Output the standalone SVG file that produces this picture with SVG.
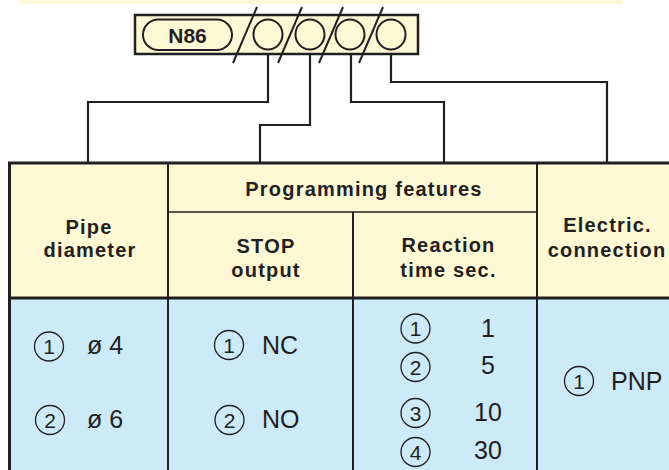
<svg xmlns="http://www.w3.org/2000/svg" width="669" height="470" viewBox="0 0 669 470">
<style>
  .ln{stroke:#231f20;fill:none;stroke-width:2.2}
  .hd{font-family:"Liberation Sans",Arial,sans-serif;font-weight:bold;font-size:20px;fill:#231f20;text-anchor:middle;letter-spacing:1.2px}
  .bd{font-family:"Liberation Sans",Arial,sans-serif;font-size:25px;fill:#231f20}
  .cn{font-family:"Liberation Sans",Arial,sans-serif;font-size:21px;fill:#231f20;text-anchor:middle}
  .cc{fill:none;stroke:#231f20;stroke-width:1.3}
</style>
<defs>
  <circle id="cir" r="14.5" class="cc"/>
</defs>
<rect x="20" y="0" width="603" height="4" fill="#fdf8d9"/>

<g id="code-box">
  <rect x="135" y="15" width="283" height="39" fill="#fef8d5" stroke="#231f20" stroke-width="2.5"/>
  <rect x="143" y="19.5" width="89" height="30.5" rx="15.25" fill="none" stroke="#231f20" stroke-width="2"/>
  <text x="187.5" y="42.5" font-family="Liberation Sans,Arial,sans-serif" font-weight="bold" font-size="21" fill="#231f20" text-anchor="middle">N86</text>
  <ellipse cx="268" cy="34.5" rx="14.5" ry="15" fill="none" stroke="#231f20" stroke-width="2"/>
  <ellipse cx="310" cy="34.5" rx="14.5" ry="15" fill="none" stroke="#231f20" stroke-width="2"/>
  <ellipse cx="350" cy="34.5" rx="14.5" ry="15" fill="none" stroke="#231f20" stroke-width="2"/>
  <ellipse cx="391" cy="34.5" rx="14.5" ry="15" fill="none" stroke="#231f20" stroke-width="2"/>
  <g stroke="#231f20" stroke-width="2">
    <line x1="233" y1="63" x2="257" y2="7"/>
    <line x1="278" y1="63" x2="302" y2="7"/>
    <line x1="319" y1="63" x2="343" y2="7"/>
    <line x1="359" y1="63" x2="383" y2="7"/>
  </g>
</g>

<g id="connectors">
  <polyline class="ln" points="268,54 268,102 88,102 88,163"/>
  <polyline class="ln" points="310,54 310,125 260,125 260,163"/>
  <polyline class="ln" points="351,54 351,102 444,102 444,163"/>
  <polyline class="ln" points="391,54 391,82 607,82 607,163"/>
</g>

<g id="table">
  <rect x="9" y="163" width="660" height="135" fill="#fef8d5"/>
  <rect x="9" y="298" width="660" height="172" fill="#cdeaf9"/>
  <g stroke="#231f20">
    <line x1="168" y1="163" x2="168" y2="470" stroke-width="2"/>
    <line x1="353" y1="212" x2="353" y2="470" stroke-width="2"/>
    <line x1="537" y1="163" x2="537" y2="470" stroke-width="2"/>
    <line x1="168" y1="212" x2="537" y2="212" stroke-width="1.5"/>
    <line x1="9" y1="298" x2="669" y2="298" stroke-width="3"/>
    <line x1="8" y1="163" x2="669" y2="163" stroke-width="3"/>
    <line x1="9.5" y1="162" x2="9.5" y2="470" stroke-width="3"/>
  </g>
</g>

<g id="pipe-diameter">
  <text class="hd" x="89" y="234">Pipe</text>
  <text class="hd" x="90" y="257">diameter</text>
  <use href="#cir" x="49" y="346.5"/>
  <text class="cn" x="49" y="354">1</text>
  <text class="bd" x="87" y="353.5">ø 4</text>
  <use href="#cir" x="50" y="420"/>
  <text class="cn" x="50" y="427.5">2</text>
  <text class="bd" x="87" y="427.5">ø 6</text>
</g>

<g id="programming-features">
  <text class="hd" x="364" y="196">Programming features</text>
</g>

<g id="stop-output">
  <text class="hd" x="266" y="253">STOP</text>
  <text class="hd" x="266" y="277">output</text>
  <use href="#cir" x="229" y="345"/>
  <text class="cn" x="229" y="352.5">1</text>
  <text class="bd" x="262" y="353.5">NC</text>
  <use href="#cir" x="229.5" y="420"/>
  <text class="cn" x="229.5" y="427.5">2</text>
  <text class="bd" x="262" y="427.5">NO</text>
</g>

<g id="reaction-time">
  <text class="hd" x="448.5" y="252">Reaction</text>
  <text class="hd" x="448.5" y="277">time sec.</text>
  <use href="#cir" x="415.5" y="328.5"/>
  <text class="cn" x="415.5" y="336">1</text>
  <text class="bd" x="488" y="337" text-anchor="middle">1</text>
  <use href="#cir" x="415.5" y="367"/>
  <text class="cn" x="415.5" y="374.5">2</text>
  <text class="bd" x="488" y="374" text-anchor="middle">5</text>
  <use href="#cir" x="415.5" y="413"/>
  <text class="cn" x="415.5" y="420.5">3</text>
  <text class="bd" x="488" y="421" text-anchor="middle">10</text>
  <use href="#cir" x="415.5" y="452"/>
  <text class="cn" x="415.5" y="459.5">4</text>
  <text class="bd" x="488" y="458.5" text-anchor="middle">30</text>
</g>

<g id="electric-connection">
  <text class="hd" x="607.5" y="232">Electric.</text>
  <text class="hd" x="607" y="257">connection</text>
  <use href="#cir" x="579" y="381"/>
  <text class="cn" x="579" y="388.5">1</text>
  <text class="bd" x="611" y="389.5">PNP</text>
</g>
</svg>
